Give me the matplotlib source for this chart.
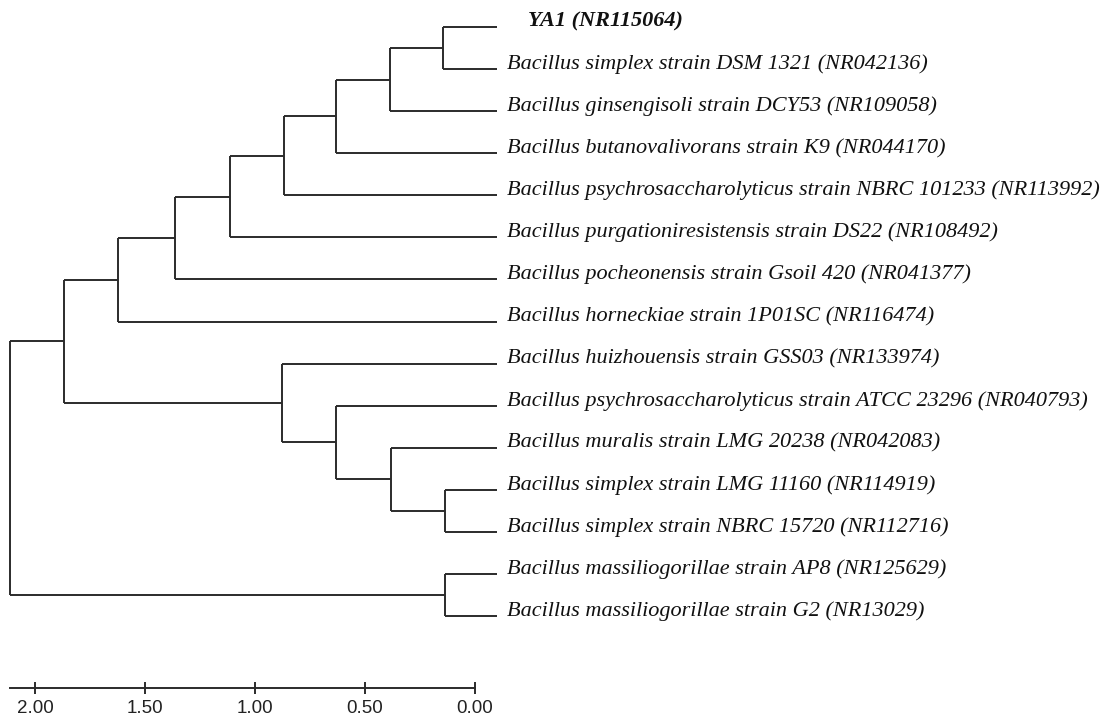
import matplotlib.pyplot as plt
from matplotlib import font_manager

# leaf labels, top to bottom
leaves = [
    "YA1 (NR115064)",
    "Bacillus simplex strain DSM 1321 (NR042136)",
    "Bacillus ginsengisoli strain DCY53 (NR109058)",
    "Bacillus butanovalivorans strain K9 (NR044170)",
    "Bacillus psychrosaccharolyticus strain NBRC 101233 (NR113992)",
    "Bacillus purgationiresistensis strain DS22 (NR108492)",
    "Bacillus pocheonensis strain Gsoil 420 (NR041377)",
    "Bacillus horneckiae strain 1P01SC (NR116474)",
    "Bacillus huizhouensis strain GSS03 (NR133974)",
    "Bacillus psychrosaccharolyticus strain ATCC 23296 (NR040793)",
    "Bacillus muralis strain LMG 20238 (NR042083)",
    "Bacillus simplex strain LMG 11160 (NR114919)",
    "Bacillus simplex strain NBRC 15720 (NR112716)",
    "Bacillus massiliogorillae strain AP8 (NR125629)",
    "Bacillus massiliogorillae strain G2 (NR13029)",
]

# merges: (child a, child b, height); new nodes numbered from 15 upwards
merges = [
    (0, 1, 0.245),     # 15
    (15, 2, 0.486),    # 16
    (16, 3, 0.732),    # 17
    (17, 4, 0.968),    # 18
    (18, 5, 1.214),    # 19
    (19, 6, 1.464),    # 20
    (20, 7, 1.723),    # 21
    (11, 12, 0.236),   # 22
    (10, 22, 0.482),   # 23
    (9, 23, 0.732),    # 24
    (8, 24, 0.977),    # 25
    (21, 25, 1.968),   # 26
    (13, 14, 0.236),   # 27
    (26, 27, 2.214),   # 28 root
]

scale_ticks = [2.0, 1.5, 1.0, 0.5, 0.0]
scale_max = 2.114

W, H = 1120, 722
fig = plt.figure(figsize=(W / 100, H / 100), dpi=100)

root_h = merges[-1][2]
ax = fig.add_axes([10 / W, (H - 616) / H, (497 - 10) / W, (616 - 27) / H])
ax.set_xlim(root_h, 0)
ax.set_ylim(len(leaves) - 1, 0)
ax.axis("off")

line_kw = dict(color="#2b2b2b", lw=1.4, clip_on=False, solid_capstyle="butt")

ypos = {i: float(i) for i in range(len(leaves))}
hpos = {i: 0.0 for i in range(len(leaves))}
node = len(leaves)
for a, b, h in merges:
    ypos[node] = (ypos[a] + ypos[b]) / 2
    hpos[node] = h
    for c in (a, b):
        ax.plot([h, hpos[c]], [ypos[c], ypos[c]], **line_kw)
    ax.plot([h, h], [ypos[a], ypos[b]], **line_kw)
    node += 1

for i, name in enumerate(leaves):
    bold = name.startswith("YA1")
    ax.annotate(name, xy=(0, i), xytext=(22 if bold else 7, 0.5 if bold else 0),
                textcoords="offset points", ha="left", va="baseline",
                family="Liberation Serif", style="italic",
                weight="bold" if bold else "normal",
                fontsize=16, color="#111111", annotation_clip=False)

# scale bar
names = {f.name for f in font_manager.fontManager.ttflist}
tick_font = "Liberation Sans Narrow" if "Liberation Sans Narrow" in names else "Liberation Sans"
sax = fig.add_axes([10 / W, (H - 688) / H, (475 - 10) / W, 0.001])
sax.set_xlim(scale_max, 0)
sax.set_yticks([])
for s in ["top", "left", "right"]:
    sax.spines[s].set_visible(False)
sax.spines["bottom"].set_color("#2b2b2b")
sax.spines["bottom"].set_linewidth(1.4)
sax.set_xticks(scale_ticks)
sax.set_xticklabels([f"{t:.2f}" for t in scale_ticks])
sax.tick_params(axis="x", direction="inout", length=9, width=1.4,
                color="#2b2b2b", pad=4, labelsize=13.5)
for lab in sax.get_xticklabels():
    lab.set_family(tick_font)
    lab.set_color("#222222")

fig.savefig("out.png", dpi=100, facecolor="white")
